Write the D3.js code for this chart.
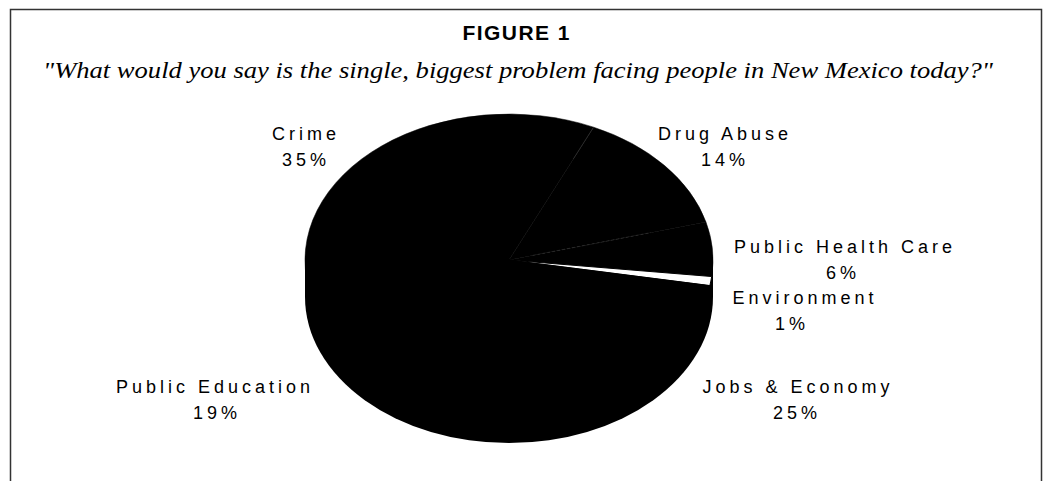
<!DOCTYPE html>
<html>
<head>
<meta charset="utf-8">
<script src="https://cdn.jsdelivr.net/npm/d3@7"></script>
<style>
  html, body { margin: 0; padding: 0; background: #fff; }
  svg { display: block; }
</style>
</head>
<body>
<svg id="chart" width="1046" height="481"></svg>
<script>
// ---- data ----
const categories = ["Crime", "Drug Abuse", "Public Health Care", "Environment", "Jobs & Economy", "Public Education"];
const values = [35, 14, 6, 1, 25, 19];
const sliceFills = ["#000", "#000", "#000", "#fff", "#000", "#000"];
const titleText = "FIGURE 1";
const subtitleText = "\"What would you say is the single, biggest problem facing people in New Mexico today?\"";

// ---- layout (not data) ----
const W = 1046, H = 481;
const cx = 509, cy = 260, rx = 204, ry = 146, depth = 37;
const k = ry / rx;
const startDeg = -101.5;
// label anchors: [center x of name, baseline of name, center x of percent]
const labelPos = [[304, 140, 304], [723, 140, 723], [843, 253, 841], [803, 304, 790], [796, 393, 795], [213, 393, 215]];
const lineGap = 26;

const svg = d3.select("#chart");

// frame (open at the bottom)
svg.append("path")
  .attr("d", `M10.5,${H + 2} L10.5,9.5 L1041.5,9.5 L1041.5,${H + 2}`)
  .attr("fill", "none").attr("stroke", "#333").attr("stroke-width", 1.5);

svg.append("text")
  .attr("x", 516).attr("y", 40)
  .attr("text-anchor", "middle")
  .attr("font-family", "Liberation Sans, Arial, sans-serif")
  .attr("font-weight", "bold").attr("font-size", 21)
  .attr("textLength", 107).attr("lengthAdjust", "spacing")
  .text(titleText);

svg.append("text")
  .attr("x", 518).attr("y", 78)
  .attr("text-anchor", "middle")
  .attr("font-family", "Liberation Serif, Times New Roman, serif")
  .attr("font-style", "italic").attr("font-size", 24)
  .attr("textLength", 950).attr("lengthAdjust", "spacingAndGlyphs")
  .text(subtitleText);

// pie
const pie = d3.pie().sort(null).value(d => d)
  .startAngle(startDeg * Math.PI / 180)
  .endAngle(startDeg * Math.PI / 180 + 2 * Math.PI);
const arcs = pie(values);
const arc = d3.arc().innerRadius(0).outerRadius(rx);

// side (depth) of the 3D pie
const sideG = svg.append("g").attr("transform", `translate(${cx},${cy}) scale(1,${k})`);
sideG.append("rect")
  .attr("x", -rx).attr("y", 0).attr("width", 2 * rx).attr("height", depth / k)
  .attr("fill", "#000");
sideG.append("path")
  .attr("transform", `translate(0,${depth / k})`)
  .attr("d", d3.arc().innerRadius(0).outerRadius(rx)({ startAngle: Math.PI / 2, endAngle: 3 * Math.PI / 2 }))
  .attr("fill", "#000");

// top face
const faceG = svg.append("g").attr("transform", `translate(${cx},${cy}) scale(1,${k})`);
faceG.selectAll("path.slice")
  .data(arcs)
  .join("path")
  .attr("class", "slice")
  .attr("d", arc)
  .attr("fill", (d, i) => sliceFills[i])
  .attr("stroke", "#000")
  .attr("stroke-width", (d, i) => sliceFills[i] === "#fff" ? 1 : 0.5)
  .attr("vector-effect", "non-scaling-stroke");

// faint separators visible in the original (Crime|Drug Abuse, Drug Abuse|Public Health Care)
const sepSpec = [
  { idx: 0, r0: 0.76, r1: 1.0, dash: null },
  { idx: 1, r0: 0.12, r1: 0.72, dash: "3,2" }
];
sepSpec.forEach(s => {
  const a = arcs[s.idx].endAngle;
  faceG.append("line")
    .attr("x1", Math.sin(a) * rx * s.r0).attr("y1", -Math.cos(a) * rx * s.r0)
    .attr("x2", Math.sin(a) * rx * s.r1).attr("y2", -Math.cos(a) * rx * s.r1)
    .attr("stroke", "#3a3a3a").attr("stroke-width", 0.6)
    .attr("stroke-dasharray", s.dash)
    .attr("vector-effect", "non-scaling-stroke");
});

// labels
const lab = svg.append("g")
  .attr("font-family", "Liberation Sans, Arial, sans-serif")
  .attr("font-size", 18)
  .attr("letter-spacing", 4)
  .attr("fill", "#000")
  .attr("text-anchor", "middle");

categories.forEach((c, i) => {
  const [x, y, px] = labelPos[i];
  lab.append("text").attr("x", x + 2).attr("y", y).text(c);
  lab.append("text").attr("x", px + 2).attr("y", y + lineGap).text(values[i] + "%");
});
</script>
</body>
</html>
